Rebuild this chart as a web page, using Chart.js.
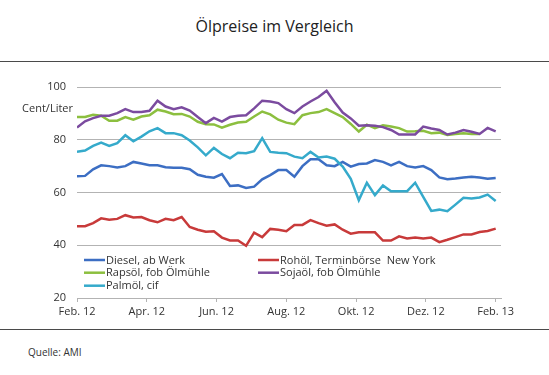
<!DOCTYPE html>
<html lang="de">
<head>
<meta charset="utf-8">
<title>Ölpreise im Vergleich</title>
<script src="https://cdn.jsdelivr.net/npm/chart.js@4.4.1/dist/chart.umd.min.js"></script>
<style>
    html, body { margin: 0; padding: 0; background: #fff; }
    body { width: 549px; height: 375px; position: relative; overflow: hidden; font-family: "Open Sans", sans-serif; color: #222; }
    #title { position: absolute; left: 0; top: 15px; width: 549px; text-align: center; font-size: 16px; }
    .rule { position: absolute; left: 0; width: 549px; height: 0; border-top: 1.5px solid #4a4a4a; }
    #wrap { position: absolute; left: 0; top: 64px; width: 549px; height: 262px; }
    #unit { position: absolute; left: 0; width: 73px; top: 100px; text-align: right; font-size: 11px; color: #333; }
    #source { position: absolute; left: 28px; top: 345px; font-size: 10px; color: #333; }
</style>
</head>
<body>
<div id="title">Ölpreise im Vergleich</div>
<div class="rule" style="top:61px"></div>
<div id="wrap"><canvas id="oilChart"></canvas></div>
<div id="unit">Cent/Liter</div>
<div class="rule" style="top:329px"></div>
<div id="source">Quelle: AMI</div>

<script>
// Weekly prices, Feb. 2012 - Feb. 2013, Cent/Liter
const MONTH_LABELS = ['Feb. 12', 'Apr. 12', 'Jun. 12', 'Aug. 12', 'Okt. 12', 'Dez. 12', 'Feb. 13'];
// week index of each month tick
const MONTH_WEEKS = [0, 8.67, 17.33, 26, 34.67, 43.33, 52];

const SERIES_NAMES = ['Diesel, ab Werk', 'Rohöl, Terminbörse  New York', 'Rapsöl, fob Ölmühle', 'Sojaöl, fob Ölmühle', 'Palmöl, cif'];
const SERIES_COLORS = ['#3c6ec3', '#c83a3a', '#8cbf3f', '#7b4b9f', '#35aacb'];

const diesel = [66.2, 66.3, 68.8, 70.3, 70.0, 69.5, 70.0, 71.6, 71.0, 70.3, 70.3, 69.6, 69.4, 69.4, 68.8, 66.7, 66.0, 65.6, 67.0, 62.5,
    62.7, 61.7, 62.2, 65.0, 66.6, 68.5, 68.5, 66.0, 70.0, 72.6, 72.6, 70.3, 70.0, 71.6, 69.8, 70.8, 71.0, 72.3, 71.6, 70.3,
    71.6, 70.0, 69.5, 70.0, 68.5, 65.7, 65.0, 65.3, 65.7, 66.0, 65.7, 65.2, 65.5];
const rohoel = [47.2, 47.2, 48.4, 50.2, 49.7, 50.0, 51.4, 50.5, 50.7, 49.5, 48.7, 50.0, 49.5, 50.7, 46.9, 45.9, 45.1, 45.3, 42.9, 41.8,
    41.8, 39.8, 44.8, 43.1, 46.2, 45.9, 45.3, 47.7, 47.7, 49.5, 48.4, 47.4, 47.9, 45.9, 44.4, 44.9, 44.9, 44.9, 41.8, 41.8,
    43.4, 42.6, 42.9, 42.6, 42.9, 41.2, 42.1, 43.1, 44.1, 44.1, 45.0, 45.4, 46.3];
const rapsoel = [88.6, 88.6, 89.5, 89.1, 87.2, 87.2, 88.6, 87.6, 88.8, 89.3, 91.4, 90.7, 89.7, 89.8, 88.8, 86.8, 85.9, 85.8, 84.6, 85.7,
    86.5, 86.8, 88.8, 90.7, 89.6, 87.6, 86.5, 85.9, 89.3, 90.1, 90.5, 91.6, 90.1, 88.6, 86.0, 83.1, 85.7, 84.4, 85.5, 85.0,
    84.4, 83.1, 83.2, 83.4, 82.5, 82.7, 81.8, 82.2, 82.5, 82.2, 82.2, null, null];
const sojaoel = [84.6, 87.0, 88.2, 89.1, 89.1, 90.1, 91.6, 90.5, 90.5, 91.0, 94.8, 92.6, 91.6, 92.3, 91.1, 88.6, 86.3, 88.3, 86.9, 88.6,
    89.1, 89.3, 91.9, 94.8, 94.5, 93.9, 91.6, 90.1, 92.6, 94.5, 96.2, 98.6, 94.2, 90.3, 88.1, 85.3, 85.5, 85.3, 84.8, 83.7,
    82.0, 82.0, 82.0, 85.0, 84.3, 83.7, 82.0, 82.7, 83.7, 83.0, 82.2, 84.5, 83.2];
const palmoel = [75.4, 75.9, 77.7, 78.9, 77.7, 78.7, 81.7, 79.4, 81.2, 83.2, 84.4, 82.5, 82.5, 81.7, 79.7, 77.1, 74.1, 76.9, 74.6, 73.0,
    75.1, 74.9, 75.7, 80.6, 75.4, 75.1, 74.9, 73.6, 73.0, 75.4, 73.3, 73.6, 72.8, 69.8, 65.2, 57.1, 63.7, 59.0, 62.7, 60.5,
    60.5, 60.5, 63.7, 58.3, 53.0, 53.5, 52.9, 55.4, 58.0, 57.7, 58.1, 59.2, 56.8];

const ALL_SERIES = [diesel, rohoel, rapsoel, sojaoel, palmoel];

const GRID_COLOR = '#b3b3b3';
const TEXT_COLOR = '#333';
const FONT_FAMILY = '"Open Sans", sans-serif';

// Legend drawn inside the plot, two columns, bottom left
const insideLegend = {
    id: 'insideLegend',
    afterDraw(chart) {
        const ctx = chart.ctx;
        const area = chart.chartArea;
        const cols = [84, 258];
        const rows = [-38, -25.3, -12.3];
        ctx.save();
        ctx.font = '11px ' + FONT_FAMILY;
        ctx.textBaseline = 'middle';
        ctx.lineWidth = 2.5;
        SERIES_NAMES.forEach((name, i) => {
            const x = cols[i % 2];
            const y = area.bottom + rows[Math.floor(i / 2)];
            ctx.strokeStyle = SERIES_COLORS[i];
            ctx.beginPath();
            ctx.moveTo(x, y);
            ctx.lineTo(x + 21, y);
            ctx.stroke();
            ctx.fillStyle = TEXT_COLOR;
            ctx.fillText(name, x + 22, y + 0.5);
        });
        ctx.restore();
    }
};

const datasets = ALL_SERIES.map((values, i) => ({
    label: SERIES_NAMES[i],
    data: values.map((v, k) => ({ x: k, y: v })),
    borderColor: SERIES_COLORS[i],
    backgroundColor: SERIES_COLORS[i],
    borderWidth: 2.5,
    pointRadius: 0,
    tension: 0,
    order: ALL_SERIES.length - i   // later series on top
}));

new Chart(document.getElementById('oilChart'), {
    type: 'line',
    data: { datasets },
    options: {
        responsive: true,
        maintainAspectRatio: false,
        animation: false,
        layout: { padding: { left: 0, right: 48, top: 23, bottom: 0 } },
        plugins: {
            legend: { display: false },
            tooltip: { enabled: false }
        },
        scales: {
            x: {
                type: 'linear',
                min: 0,
                max: 52.66,
                afterBuildTicks: scale => {
                    scale.ticks = MONTH_WEEKS.map(w => ({ value: w }));
                },
                afterFit: scale => { scale.height = 28; },
                ticks: {
                    autoSkip: false,
                    maxRotation: 0,
                    padding: 3,
                    color: TEXT_COLOR,
                    font: { family: FONT_FAMILY, size: 11 },
                    callback: (value, index) => MONTH_LABELS[index]
                },
                grid: { drawOnChartArea: false, drawTicks: true, tickLength: 4, color: GRID_COLOR },
                border: { display: true, color: GRID_COLOR, width: 1 }
            },
            y: {
                min: 20,
                max: 100,
                afterFit: scale => { scale.width = 77; },
                ticks: {
                    stepSize: 20,
                    padding: 11,
                    color: TEXT_COLOR,
                    font: { family: FONT_FAMILY, size: 11 }
                },
                grid: { color: GRID_COLOR, lineWidth: 1, drawTicks: false },
                border: { display: false }
            }
        }
    },
    plugins: [insideLegend]
});
</script>
</body>
</html>
